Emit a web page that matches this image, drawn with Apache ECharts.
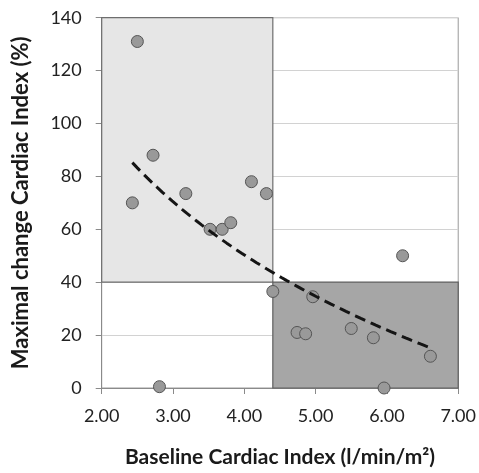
<!DOCTYPE html>
<html>
<head>
<meta charset="utf-8">
<script src="https://cdn.jsdelivr.net/npm/echarts@6/dist/echarts.min.js"></script>
<style>
  html, body { margin: 0; padding: 0; background: #fff; }
  #chart { width: 479px; height: 473px; }
</style>
</head>
<body>
<div id="chart"></div>
<script>
// Baseline cardiac index (l/min/m²) and maximal change in cardiac index (%) per patient
const baselineCI = [2.50, 2.72, 2.43, 3.18, 4.10, 4.31, 3.52, 3.69, 3.81, 4.40, 2.81, 6.22, 4.96, 4.74, 4.86, 5.50, 5.81, 6.61, 5.96];
const maxChangeCI = [131, 88, 70, 73.5, 78, 73.5, 60, 60, 62.5, 36.5, 0.5, 50, 34.5, 21, 20.5, 22.5, 19, 12, 0];

// Axis ticks
const xTicks = [2, 3, 4, 5, 6, 7];
const yTicks = [0, 20, 40, 60, 80, 100, 120, 140];

// Shaded zones: [x, y] lower-left and upper-right corners
const upperLeftZone = [[2.0, 40], [4.4, 140]];
const lowerRightZone = [[4.4, 0], [7.0, 40]];

// Logarithmic least-squares trend: y = a + b * ln(x)
function logFit(xs, ys) {
  const n = xs.length;
  const u = xs.map(Math.log);
  const mu = u.reduce((s, v) => s + v, 0) / n;
  const my = ys.reduce((s, v) => s + v, 0) / n;
  let sxy = 0, sxx = 0;
  for (let i = 0; i < n; i++) {
    sxy += (u[i] - mu) * (ys[i] - my);
    sxx += (u[i] - mu) * (u[i] - mu);
  }
  const b = sxy / sxx;
  return { a: my - b * mu, b: b };
}
const fit = logFit(baselineCI, maxChangeCI);
const xMin = Math.min(...baselineCI), xMax = Math.max(...baselineCI);
const trend = [];
for (let i = 0; i <= 60; i++) {
  const x = xMin + (xMax - xMin) * i / 60;
  trend.push([x, fit.a + fit.b * Math.log(x)]);
}

const points = baselineCI.map((x, i) => [x, maxChangeCI[i]]);

const FONT = 'Lato';
const axisGray = '#8a8a8a';

const chart = echarts.init(document.getElementById('chart'), null, { renderer: 'canvas' });
chart.setOption({
  animation: false,
  grid: { left: 101.7, right: 20.7, top: 17.7, bottom: 70.3, show: true, borderColor: '#9a9a9a', borderWidth: 1 },
  xAxis: {
    type: 'value',
    min: xTicks[0], max: xTicks[xTicks.length - 1], interval: xTicks[1] - xTicks[0],
    name: 'Baseline Cardiac Index (l/min/m²)',
    nameLocation: 'middle', nameGap: 59,
    nameTextStyle: { fontFamily: FONT, fontWeight: 'bold', fontSize: 21, color: '#1a1a1a' },
    axisLine: { show: true, onZero: false, lineStyle: { color: axisGray } },
    axisTick: { show: true, length: 6, lineStyle: { color: axisGray } },
    axisLabel: { margin: 19, fontFamily: FONT, fontSize: 18, color: '#222', showMinLabel: true, showMaxLabel: true,
      formatter: v => v.toFixed(2) },
    splitLine: { show: false }
  },
  yAxis: {
    type: 'value',
    min: yTicks[0], max: yTicks[yTicks.length - 1], interval: yTicks[1] - yTicks[0],
    name: 'Maximal change Cardiac Index (%)',
    nameLocation: 'middle', nameGap: 70, nameRotate: 90,
    nameTextStyle: { fontFamily: FONT, fontWeight: 'bold', fontSize: 22, color: '#1a1a1a' },
    axisLine: { show: true, onZero: false, lineStyle: { color: axisGray } },
    axisTick: { show: true, length: 6, lineStyle: { color: axisGray } },
    axisLabel: { margin: 20, fontFamily: FONT, fontSize: 18, color: '#222', showMinLabel: true, showMaxLabel: true },
    splitLine: { show: true, lineStyle: { color: '#d2d2d2' } }
  },
  series: [
    {
      type: 'line', data: [], z: 1, silent: true,
      markArea: {
        silent: true,
        data: [
          [{ coord: upperLeftZone[0], itemStyle: { color: '#e6e6e6', borderColor: '#6e6e6e', borderWidth: 1.2 } },
           { coord: upperLeftZone[1] }],
          [{ coord: lowerRightZone[0], itemStyle: { color: '#a6a6a6', borderColor: '#5e5e5e', borderWidth: 1.2 } },
           { coord: lowerRightZone[1] }]
        ]
      }
    },
    {
      type: 'scatter', data: points, z: 3,
      symbol: 'circle', symbolSize: 12,
      itemStyle: { color: '#999999', borderColor: '#555555', borderWidth: 1, opacity: 1 }
    },
    {
      type: 'line', data: trend, z: 4, showSymbol: false, smooth: false,
      lineStyle: { color: '#151515', width: 3, type: [11, 6] }
    }
  ]
});
</script>
</body>
</html>
